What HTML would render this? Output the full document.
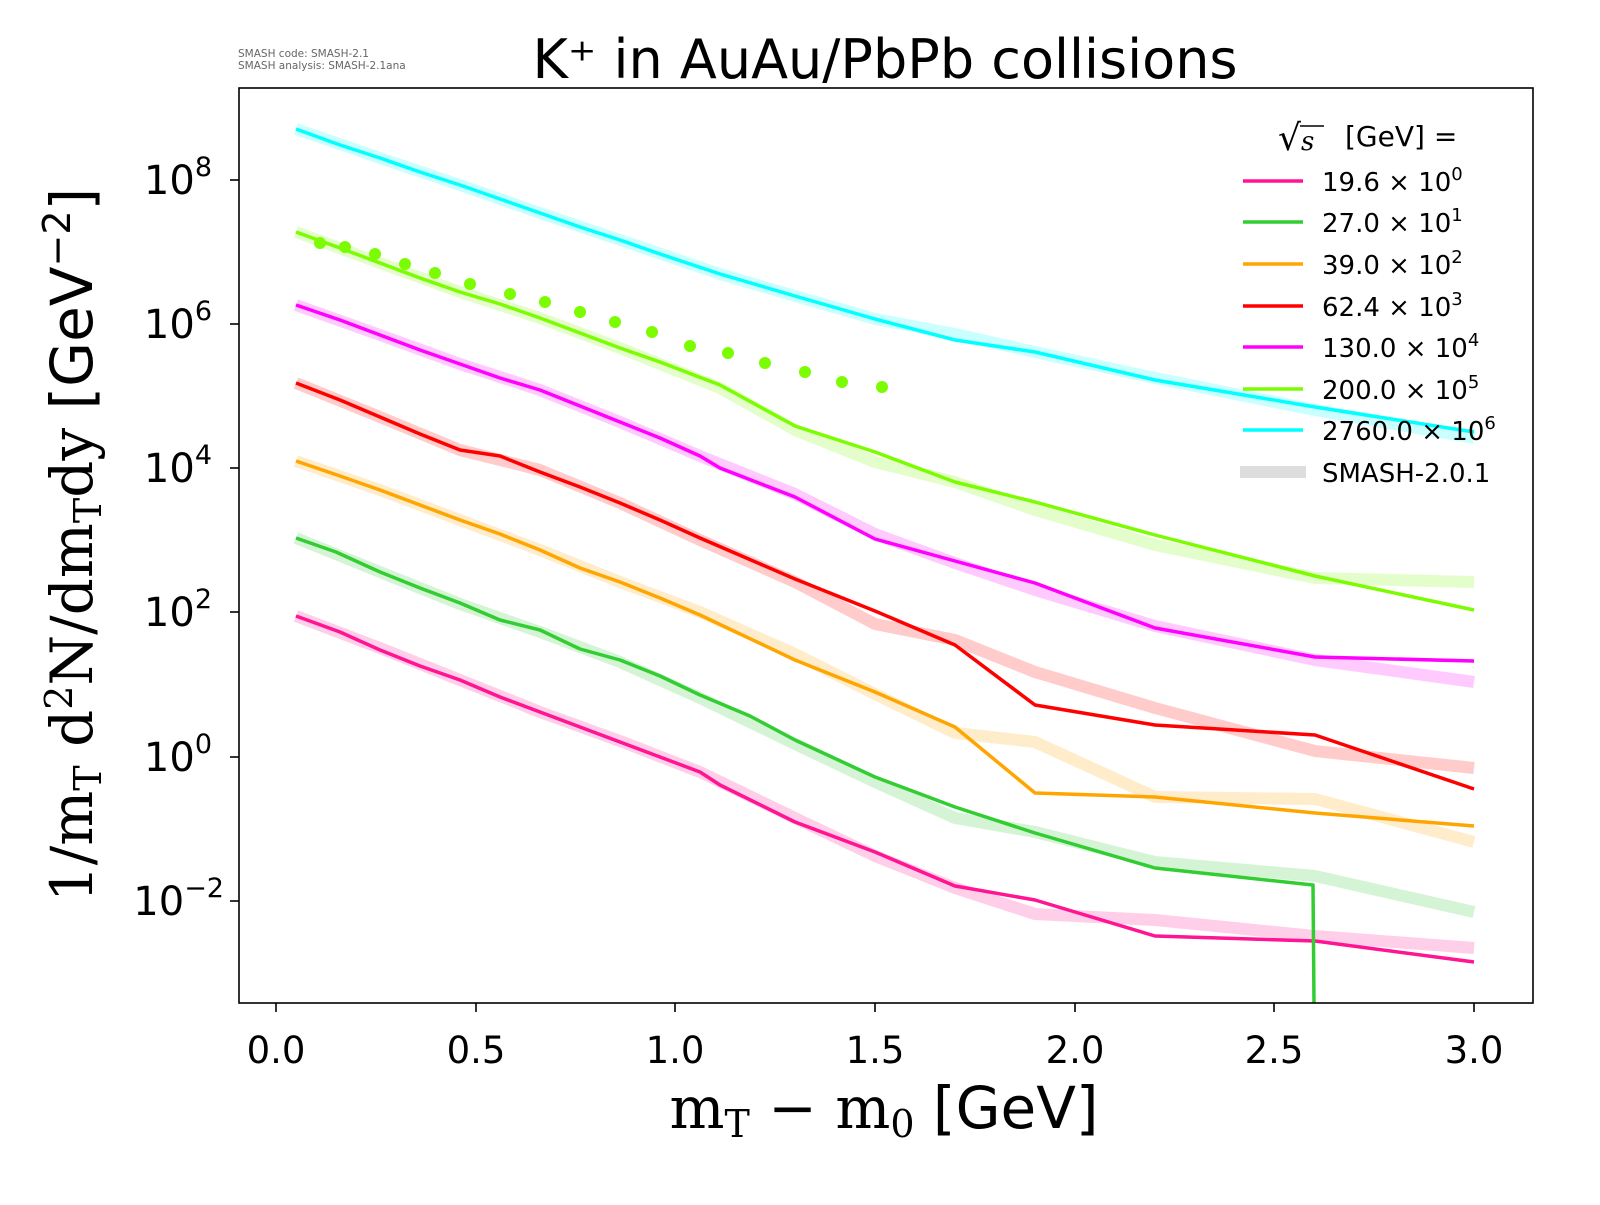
<!DOCTYPE html>
<html><head><meta charset="utf-8"><style>
body{margin:0;background:#fff;}
svg text{font-family:"DejaVu Sans","Liberation Sans",sans-serif;}
.serif{font-family:"DejaVu Serif","Liberation Serif",serif;}
</style></head><body>
<svg width="1600" height="1200" viewBox="0 0 1600 1200" xmlns="http://www.w3.org/2000/svg">
<rect width="1600" height="1200" fill="#fff"/>
<text x="238" y="57" font-size="10.5" fill="#666">SMASH code:      SMASH-2.1</text>
<text x="238" y="69" font-size="10.5" fill="#666">SMASH analysis: SMASH-2.1ana</text>
<text x="885" y="78" font-size="54" text-anchor="middle">K⁺ in AuAu/PbPb collisions</text>

<g fill="none" stroke-linejoin="round" stroke-width="12" opacity="0.2">
<polyline stroke="#ff1493" points="296,616 380,648 460,680 540,712 620,741 700,772 795,818 875,856 955,888 1035,914 1155,920 1315,936 1474,948"/>
<polyline stroke="#32cd32" points="296,538 380,572 460,604 540,632 620,662 700,698 795,744 875,782 955,818 1035,832 1155,862 1315,876 1474,912"/>
<polyline stroke="#ffa500" points="296,461 380,490 460,520 540,550 620,582 700,612 795,654 875,694 955,733 1035,742 1155,797 1315,799 1474,842"/>
<polyline stroke="#ff0000" points="296,383 380,417 460,450 540,470 620,503 700,540 795,582 875,624 955,640 1035,672 1155,708 1315,751 1474,768"/>
<polyline stroke="#ff00ff" points="296,305 380,335 460,364 540,390 620,422 700,456 795,494 875,534 955,563 1035,590 1155,626 1315,660 1474,682"/>
<polyline stroke="#7cfc00" points="296,232 380,263 460,292 540,318 620,348 720,388 795,430 875,462 955,482 1035,510 1155,545 1315,578 1474,582"/>
<polyline stroke="#00ffff" points="296,129 380,158 460,185 540,213 620,240 720,274 795,296 875,319 955,334 1035,352 1155,378 1315,410 1474,438"/>
</g>
<g fill="none" stroke-linejoin="round" stroke-width="3.5">
<polyline stroke="#ff1493" points="296,616 340,632 380,650 420,666 460,680 500,697 540,712 580,727 620,742 660,757 700,772 720,785 795,822 875,852 955,886 1035,900 1155,936 1315,941 1474,962"/>
<polyline stroke="#32cd32" points="296,538 336,552 380,572 420,588 460,603 500,620 540,630 580,649 620,660 660,676 700,695 750,716 795,740 875,777 955,807 1035,833 1155,868 1313,885 1314,1003"/>
<polyline stroke="#ffa500" points="296,461 340,476 380,490 420,505 460,520 500,534 540,550 580,568 620,582 660,598 700,615 795,660 875,692 955,727 1035,793 1155,797 1315,813 1474,826"/>
<polyline stroke="#ff0000" points="296,383 340,400 380,417 420,434 460,450 500,456 540,472 580,487 620,503 660,520 700,538 795,579 875,611 955,645 1035,705 1155,725 1315,735 1474,789"/>
<polyline stroke="#ff00ff" points="296,305 340,320 380,335 420,350 460,364 500,378 540,390 580,406 620,422 660,438 700,456 720,468 795,497 875,539 955,561 1035,583 1155,628 1315,657 1474,661"/>
<polyline stroke="#7cfc00" points="296,232 340,248 380,263 420,278 460,292 500,304 540,318 580,333 620,348 660,362 720,385 795,426 875,452 955,482 1035,502 1155,535 1315,576 1474,610"/>
<polyline stroke="#00ffff" points="296,129 340,145 380,158 420,172 460,185 500,199 540,213 580,227 620,240 660,254 720,274 795,296 875,319 955,340 1035,352 1155,380 1315,407 1474,432"/>
</g>
<g fill="#7cfc00">
<circle cx="320" cy="243" r="6"/><circle cx="345" cy="247" r="6"/><circle cx="375" cy="254" r="6"/><circle cx="405" cy="264" r="6"/><circle cx="435" cy="273" r="6"/><circle cx="470" cy="284" r="6"/><circle cx="510" cy="294" r="6"/><circle cx="545" cy="302" r="6"/><circle cx="580" cy="312" r="6"/><circle cx="615" cy="322" r="6"/><circle cx="652" cy="332" r="6"/><circle cx="690" cy="346" r="6"/><circle cx="728" cy="353" r="6"/><circle cx="765" cy="363" r="6"/><circle cx="805" cy="372" r="6"/><circle cx="842" cy="382" r="6"/><circle cx="882" cy="387" r="6"/>
</g>

<rect x="239" y="88" width="1294" height="915" fill="none" stroke="#000" stroke-width="1.6"/>
<g stroke="#000" stroke-width="1.6">
<line x1="276" y1="1003" x2="276" y2="1012"/><line x1="476" y1="1003" x2="476" y2="1012"/><line x1="675" y1="1003" x2="675" y2="1012"/><line x1="875" y1="1003" x2="875" y2="1012"/><line x1="1075" y1="1003" x2="1075" y2="1012"/><line x1="1274" y1="1003" x2="1274" y2="1012"/><line x1="1474" y1="1003" x2="1474" y2="1012"/>
<line x1="230" y1="180" x2="239" y2="180"/><line x1="230" y1="324" x2="239" y2="324"/><line x1="230" y1="468" x2="239" y2="468"/><line x1="230" y1="612" x2="239" y2="612"/><line x1="230" y1="757" x2="239" y2="757"/><line x1="230" y1="901" x2="239" y2="901"/>
</g>
<g font-size="37" text-anchor="middle">
<text x="276" y="1063">0.0</text><text x="476" y="1063">0.5</text><text x="675" y="1063">1.0</text><text x="875" y="1063">1.5</text><text x="1075" y="1063">2.0</text><text x="1274" y="1063">2.5</text><text x="1474" y="1063">3.0</text>
</g>
<g font-size="40" text-anchor="end">
<text x="212" y="194">10<tspan dy="-18" font-size="27">8</tspan></text>
<text x="212" y="338">10<tspan dy="-18" font-size="27">6</tspan></text>
<text x="212" y="482">10<tspan dy="-18" font-size="27">4</tspan></text>
<text x="212" y="626">10<tspan dy="-18" font-size="27">2</tspan></text>
<text x="212" y="771">10<tspan dy="-18" font-size="27">0</tspan></text>
<text x="224" y="915">10<tspan dy="-18" font-size="27">−2</tspan></text>
</g>
<text x="884" y="1128" font-size="58" text-anchor="middle"><tspan class="serif">m<tspan font-size="38" dy="9">T</tspan><tspan dy="-9"> − m</tspan><tspan font-size="38" dy="9">0</tspan></tspan><tspan dy="-9"> [GeV]</tspan></text>
<text transform="translate(92,545) rotate(-90)" font-size="58" text-anchor="middle"><tspan class="serif">1/m<tspan font-size="38" dy="9">T</tspan><tspan dy="-9"> d</tspan><tspan font-size="38" dy="-20">2</tspan><tspan dy="20">N/dm</tspan><tspan font-size="38" dy="9">T</tspan><tspan dy="-9">dy</tspan></tspan> [GeV<tspan font-size="38" dy="-22">−2</tspan><tspan dy="22">]</tspan></text>

<g font-size="26">
<text x="1278" y="150" font-size="36" class="serif">√<tspan font-style="italic" font-size="26">s</tspan></text>
<line x1="1300" y1="126" x2="1324" y2="126" stroke="#000" stroke-width="1.5"/>
<text x="1345" y="146" font-size="28">[GeV] =</text>
<g stroke-width="3.5">
<line x1="1243" y1="181" x2="1303" y2="181" stroke="#ff1493"/>
<line x1="1243" y1="222" x2="1303" y2="222" stroke="#32cd32"/>
<line x1="1243" y1="264" x2="1303" y2="264" stroke="#ffa500"/>
<line x1="1243" y1="306" x2="1303" y2="306" stroke="#ff0000"/>
<line x1="1243" y1="347" x2="1303" y2="347" stroke="#ff00ff"/>
<line x1="1243" y1="389" x2="1303" y2="389" stroke="#7cfc00"/>
<line x1="1243" y1="430" x2="1303" y2="430" stroke="#00ffff"/>
<line x1="1240" y1="472" x2="1306" y2="472" stroke="#ddd" stroke-width="12"/>
</g>
<text x="1322" y="191">19.6 × 10<tspan dy="-11" font-size="18">0</tspan></text>
<text x="1322" y="232">27.0 × 10<tspan dy="-11" font-size="18">1</tspan></text>
<text x="1322" y="274">39.0 × 10<tspan dy="-11" font-size="18">2</tspan></text>
<text x="1322" y="316">62.4 × 10<tspan dy="-11" font-size="18">3</tspan></text>
<text x="1322" y="357">130.0 × 10<tspan dy="-11" font-size="18">4</tspan></text>
<text x="1322" y="399">200.0 × 10<tspan dy="-11" font-size="18">5</tspan></text>
<text x="1322" y="440">2760.0 × 10<tspan dy="-11" font-size="18">6</tspan></text>
<text x="1322" y="482">SMASH-2.0.1</text>
</g>
</svg>
</body></html>
